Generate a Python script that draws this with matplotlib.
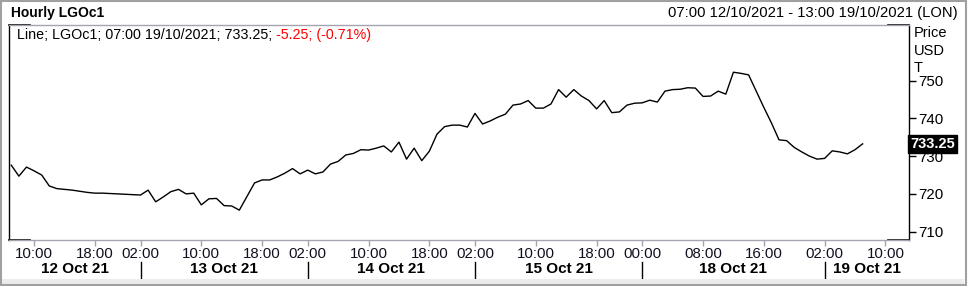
import matplotlib
matplotlib.use("Agg")
import matplotlib.pyplot as plt
import matplotlib.transforms as mtransforms
from matplotlib.patches import Rectangle

plt.rcParams['font.family'] = ['Liberation Sans', 'DejaVu Sans']

# hourly closes, trading hours only, from 07:00 12/10 to 07:00 19/10
prices = [727.6, 724.7, 727.1, 726.1, 725.0, 722.1, 721.4, 721.2, 721.0, 720.7,
          720.4, 720.2, 720.2, 720.1, 720.0, 719.9, 719.8, 719.7, 721.0, 717.9,
          719.2, 720.6, 721.2, 720.0, 720.2, 717.1, 718.7, 718.8, 716.9, 716.8,
          715.7, 719.3, 722.9, 723.7, 723.7, 724.5, 725.5, 726.7, 725.3, 726.3,
          725.3, 725.8, 727.9, 728.6, 730.3, 730.7, 731.7, 731.6, 732.1, 732.7,
          731.1, 733.7, 729.2, 732.1, 728.8, 731.3, 735.8, 737.8, 738.2, 738.2,
          737.7, 741.3, 738.5, 739.3, 740.3, 741.1, 743.5, 743.8, 744.7, 742.7,
          742.7, 743.8, 747.6, 745.6, 747.6, 745.9, 744.7, 742.5, 744.7, 741.5,
          741.7, 743.5, 744.0, 744.1, 744.8, 744.3, 747.2, 747.6, 747.7, 748.1,
          748.0, 745.8, 745.9, 747.2, 746.4, 752.2, 751.9, 751.5, 747.2, 742.9,
          738.8, 734.3, 734.1, 732.3, 731.1, 730.0, 729.2, 729.4, 731.4, 731.1,
          730.6, 731.7, 733.25]
last_bar = 118  # 13:00 19/10

time_ticks = [3, 11, 17, 25, 33, 39, 47, 55, 61, 69, 77, 83, 91, 99, 107, 115]
time_labels = ['10:00', '18:00', '02:00', '10:00', '18:00', '02:00', '10:00', '18:00',
               '02:00', '10:00', '18:00', '00:00', '08:00', '16:00', '02:00', '10:00']
day_breaks = [17, 39, 61, 83, 107]
day_labels = ['12 Oct 21', '13 Oct 21', '14 Oct 21', '15 Oct 21', '18 Oct 21', '19 Oct 21']
price_ticks = [710, 720, 730, 740, 750]

W, H = 968, 286
fig = plt.figure(figsize=(W / 100, H / 100), dpi=100)
ax = fig.add_axes([9 / W, 46 / H, 900 / W, 215 / H])

x = list(range(len(prices)))
ax.plot(x, prices, color='black', lw=1.0)

x0, x1 = -0.3, last_bar + 0.1
ax.set_xlim(x0, x1)
ax.set_ylim(707.8, 764.7)

for s in ['top', 'bottom']:
    ax.spines[s].set_color('#a4a4b0')
    ax.spines[s].set_linewidth(1.0)
for s in ['left', 'right']:
    ax.spines[s].set_color('black')
    ax.spines[s].set_linewidth(1.0)

# dark corner brackets
bl = 21 / 900
for yy in (0, 1):
    ax.plot([0, bl], [yy, yy], color='black', lw=1.2, transform=ax.transAxes, clip_on=False)
    ax.plot([1 - bl, 1], [yy, yy], color='black', lw=1.2, transform=ax.transAxes, clip_on=False)

ax.yaxis.tick_right()
ax.set_yticks(price_ticks)
ax.set_yticklabels([str(v) for v in price_ticks])
ax.tick_params(axis='y', direction='out', length=5, width=1, pad=1.5, labelsize=10.8, colors='black')

ax.set_xticks(time_ticks)
ax.set_xticklabels(time_labels)
ax.tick_params(axis='x', direction='out', length=4, width=1, pad=1.2, labelsize=10.8,
               color='#a4a4b0', labelcolor='#101020')

trans = mtransforms.blended_transform_factory(ax.transData, ax.transAxes)
bounds = [x0] + day_breaks + [x1]
for i, lab in enumerate(day_labels):
    ax.text((bounds[i] + bounds[i + 1]) / 2, -29 / 215, lab, transform=trans,
            ha='center', va='center', fontsize=11, fontweight='bold', color='black')
for b in day_breaks:
    ax.plot([b, b], [-22 / 215, -39 / 215], color='black', lw=1, transform=trans, clip_on=False)

# last value box
ax.annotate(f'{prices[-1]:.2f}', xy=(1.0, prices[-1]), xycoords=('axes fraction', 'data'),
            xytext=(1, 0), textcoords='offset points', ha='left', va='center',
            fontsize=10.5, fontweight='bold', color='white',
            bbox=dict(boxstyle='square,pad=0.15', fc='black', ec='black'))

# header
fig.text(11 / W, 1 - 13 / H, 'Hourly LGOc1', fontsize=10, fontweight='bold', va='center', ha='left')
fig.text(958 / W, 1 - 13 / H, '07:00 12/10/2021 - 13:00 19/10/2021 (LON)', fontsize=10.6,
         va='center', ha='right')

# legend line
t1 = fig.text(17 / W, 1 - 35 / H, 'Line; LGOc1; 07:00 19/10/2021; 733.25; ', fontsize=10.3,
              va='center', ha='left', color='black')
fig.canvas.draw()
bb = t1.get_window_extent()
fig.text(bb.x1 / W, 1 - 35 / H, '-5.25; (-0.71%)', fontsize=10.3, va='center', ha='left', color='#ff0000')

# axis unit labels
for lab, yy in [('Price', 33), ('USD', 51), ('T', 68)]:
    fig.text(914 / W, 1 - yy / H, lab, fontsize=10.5, va='center', ha='left')

# bottom strip and outer frame
fig.patches.append(Rectangle((2 / W, 2 / H), 962 / W, 5 / H, transform=fig.transFigure,
                             fc='#ececec', ec='none', zorder=0))
fig.patches.append(Rectangle((1 / W, 1.5 / H), 965 / W, 283.5 / H, transform=fig.transFigure,
                             fill=False, ec='#a0a0a0', lw=1.5))

fig.savefig('out.png', dpi=100)
